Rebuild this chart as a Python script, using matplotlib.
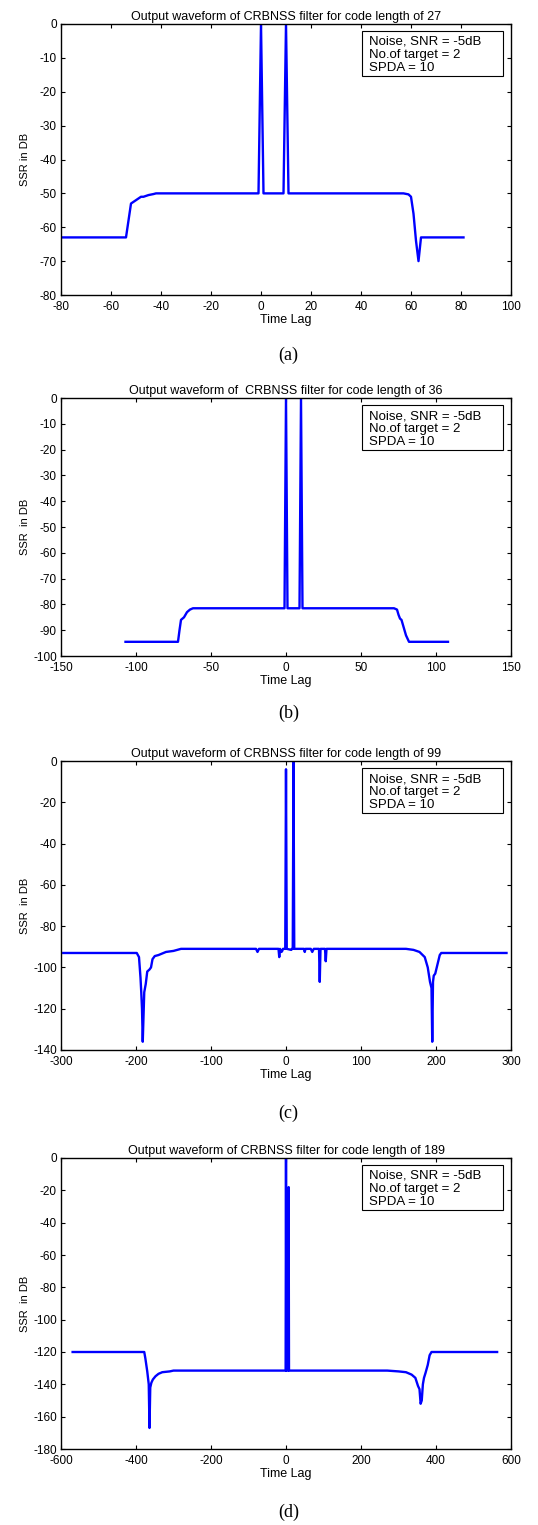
import numpy as np
import matplotlib
matplotlib.use("Agg")
import matplotlib.pyplot as plt
from matplotlib.patches import Rectangle

plt.rcParams['font.family'] = ['Liberation Sans', 'DejaVu Sans']
plt.rcParams['axes.unicode_minus'] = False

W, H = 538, 1525

# panel (a), code length 27
lag_a = [-80, -54, -53, -52, -50, -48, -47, -45, -43, -42, -1, 0, 1, 9, 10, 11,
         57, 59, 60, 61, 62, 63, 64, 81]
ssr_a = [-63, -63, -58, -53, -52, -51, -51, -50.5, -50.2, -50, -50, 0, -50, -50, 0, -50,
         -50, -50.3, -51, -56, -64, -70, -63, -63]

# panel (b), code length 36
lag_b = [-107, -72, -71, -70, -68, -66, -64, -62, -1, 0, 1, 9, 10, 11,
         72, 74, 75, 76, 77, 78, 79, 80, 82, 108]
ssr_b = [-94.5, -94.5, -90, -86, -85, -83, -82, -81.5, -81.5, 0, -81.5, -81.5, 0, -81.5,
         -81.5, -82, -84, -85.5, -86, -88, -90, -92, -94.5, -94.5]

# panel (c), code length 99
lag_c = [-297, -199, -196, -194, -193, -192, -191, -189, -187, -185, -182, -180, -178,
         -175, -170, -160, -150, -140, -40, -38, -36, -10, -9, -8, -6, -5, -4, -1, 0, 1,
         7, 8, 9, 10, 11, 24, 25, 26, 33, 35, 37, 44, 45, 46, 47, 52, 53, 54, 160, 170,
         178, 185, 189, 192, 194, 195, 196, 197, 199, 201, 203, 205, 207, 294]
ssr_c = [-93, -93, -95, -105, -112, -120, -136, -112, -108, -102, -101, -100, -96,
         -94.5, -94, -92.5, -92, -91, -91, -92.5, -91, -91, -95, -91, -92.5, -92, -91,
         -91, -4, -91, -91.5, -91, -91, 0, -91, -91, -92.5, -91, -91, -92.5, -91, -91,
         -107, -91, -91, -91, -97, -91, -91, -91.5, -92.5, -95, -100, -107, -110, -136,
         -107, -104, -103, -100, -97, -94, -93, -93]

# panel (d), code length 189
lag_d = [-569, -378, -375, -370, -366, -364, -362, -359, -355, -348, -340, -330, -310,
         -300, -1, 0, 1, 6, 7, 8, 270, 300, 320, 335, 345, 352, 356, 359, 362, 365,
         368, 372, 378, 383, 388, 563]
ssr_d = [-120, -120, -124, -132, -140, -167, -142, -139, -137, -135, -133.5, -132.5,
         -132, -131.5, -131.5, 0, -131.5, -131.5, -18, -131.5, -131.5, -132, -132.5,
         -134, -136, -141, -143, -152, -150, -140, -136, -133, -128, -122, -120, -120]

titles = ["Output waveform of CRBNSS filter for code length of 27",
          "Output waveform of  CRBNSS filter for code length of 36",
          "Output waveform of CRBNSS filter for code length of 99",
          "Output waveform of CRBNSS filter for code length of 189"]
ylabels = ["SSR in DB", "SSR  in DB", "SSR  in DB", "SSR  in DB"]
captions = ["(a)", "(b)", "(c)", "(d)"]
xlims = [(-80, 100), (-150, 150), (-300, 300), (-600, 600)]
xsteps = [20, 50, 100, 200]
ylims = [(-80, 0), (-100, 0), (-140, 0), (-180, 0)]
ysteps = [10, 10, 20, 20]
info = "Noise, SNR = -5dB\nNo.of target = 2\nSPDA = 10"

series = [(lag_a, ssr_a), (lag_b, ssr_b), (lag_c, ssr_c), (lag_d, ssr_d)]

# pixel boxes: top, bottom of each axes; caption y
tops = [24, 398, 761, 1158]
bots = [295, 656, 1050, 1449]
caps = [355, 713, 1113, 1512]
left, right = 61, 511

fig = plt.figure(figsize=(W / 100, H / 100), dpi=100)

for i in range(4):
    h = bots[i] - tops[i]
    ax = fig.add_axes([left / W, 1 - bots[i] / H, (right - left) / W, h / H])
    x, y = series[i]
    ax.plot(x, y, color='#0000ff', lw=1.7)
    ax.set_xlim(*xlims[i])
    ax.set_ylim(*ylims[i])
    ax.set_xticks(np.arange(xlims[i][0], xlims[i][1] + 1, xsteps[i]))
    ax.set_yticks(np.arange(ylims[i][0], ylims[i][1] + 1, ysteps[i]))
    ax.tick_params(direction='in', top=True, right=True, labelsize=8.5, length=3)
    ax.tick_params(axis='x', pad=4)
    ax.tick_params(axis='y', pad=3)
    for s in ax.spines.values():
        s.set_linewidth(1.0)
    ax.set_title(titles[i], fontsize=9, pad=3)
    ax.set_xlabel("Time Lag", fontsize=9, labelpad=1)
    ax.set_ylabel(ylabels[i], fontsize=8)
    ax.yaxis.set_label_coords(-0.069, 0.5)
    # info box: ~7..52 px below the axes top
    ax.add_patch(Rectangle((0.669, 1 - 52 / h), 0.313, 45 / h, transform=ax.transAxes,
                           facecolor='white', edgecolor='black', lw=0.8, zorder=5))
    ax.text(0.685, 1 - 12 / h, info, transform=ax.transAxes, fontsize=9.5, va='top',
            ha='left', linespacing=1.12, zorder=6)
    fig.text(0.5 * (left + right) / W + 0.005, 1 - caps[i] / H, captions[i],
             family='Liberation Serif', fontsize=13, ha='center', va='center')

fig.savefig("out.png", dpi=100)
